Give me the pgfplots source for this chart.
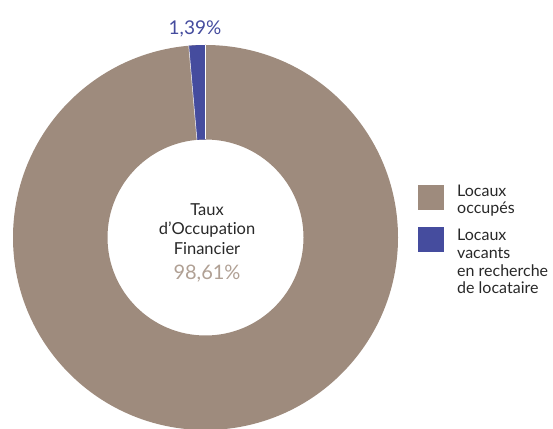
\documentclass[border=0pt]{standalone}
\usepackage{fontspec}
\setmainfont{Lato}[Ligatures=NoCommon]
\usepackage{pgfplots}
\usepackage{pgfplotstable}
\pgfplotsset{compat=1.18}
\definecolor{occ}{RGB}{158,139,125}
\definecolor{vac}{RGB}{69,76,158}
\definecolor{pct}{RGB}{176,160,148}
\definecolor{txt}{RGB}{40,40,40}
\pgfplotstableread{
label share
occupes 98.61
vacants 1.39
}\piedata
\newcommand{\pct}[1]{\pgfmathprintnumber[use comma,fixed,fixed zerofill,precision=2,assume math mode=true]{#1}\%}
\begin{document}
\begin{tikzpicture}
\pgfplotstablegetelem{0}{share}\of\piedata \let\occshare\pgfplotsretval
\pgfplotstablegetelem{1}{share}\of\piedata \let\vacshare\pgfplotsretval
\pgfmathsetmacro{\aEnd}{90+3.6*\vacshare}
\begin{axis}[
  x=1pt, y=1pt, xmin=0, xmax=553, ymin=0, ymax=428,
  scale only axis, hide axis, clip=false,
]
\coordinate (c) at (axis cs:205.5,190.5);
% ring (occupied)
\fill[occ, even odd rule] (c) circle[radius=192.5pt] (c) circle[radius=98pt];
% vacant slice
\fill[vac] ([shift={(90:192.5pt)}]c) arc[start angle=90, end angle=\aEnd, radius=192.5pt]
  -- ([shift={(\aEnd:98pt)}]c) arc[start angle=\aEnd, end angle=90, radius=98pt] -- cycle;
\draw[white, line width=0.5pt] ([shift={(90:98pt)}]c) -- ([shift={(90:192.5pt)}]c);
\draw[white, line width=0.5pt] ([shift={(\aEnd:98pt)}]c) -- ([shift={(\aEnd:192.5pt)}]c);
% center text
\node[anchor=base, text=txt, font=\fontsize{16.5}{18}\selectfont, inner sep=0pt] at (axis cs:207,212.5) {Taux};
\node[anchor=base, text=txt, font=\fontsize{16.5}{18}\selectfont, inner sep=0pt] at (axis cs:207,193) {d’Occupation};
\node[anchor=base, text=txt, font=\fontsize{16.5}{18}\selectfont, inner sep=0pt] at (axis cs:207,173.5) {Financier};
\node[anchor=base, text=pct, font=\fontsize{20}{22}\selectfont, inner sep=0pt] at (axis cs:207,148.5) {\pct{\occshare}};
% slice label
\node[anchor=base, text=vac, font=\fontsize{19}{21}\selectfont, inner sep=0pt] at (axis cs:195,393.7) {\pct{\vacshare}};
% legend
\fill[occ] (axis cs:418.3,218) rectangle (axis cs:444.3,243);
\fill[vac] (axis cs:418.3,175.5) rectangle (axis cs:444.3,201);
\node[anchor=base west, text=txt, font=\fontsize{16}{18}\selectfont, inner sep=0pt] at (axis cs:457,231) {Locaux};
\node[anchor=base west, text=txt, font=\fontsize{16}{18}\selectfont, inner sep=0pt] at (axis cs:457,214.5) {occupés};
\node[anchor=base west, text=txt, font=\fontsize{16}{18}\selectfont, inner sep=0pt] at (axis cs:457,187.5) {Locaux};
\node[anchor=base west, text=txt, font=\fontsize{16}{18}\selectfont, inner sep=0pt] at (axis cs:457,169.7) {vacants};
\node[anchor=base west, text=txt, font=\fontsize{16}{18}\selectfont, inner sep=0pt] at (axis cs:457,151.7) {en recherche};
\node[anchor=base west, text=txt, font=\fontsize{16}{18}\selectfont, inner sep=0pt] at (axis cs:457,134) {de locataire};
\end{axis}
\pgfresetboundingbox
\useasboundingbox (0,0) rectangle (553pt,428pt);
\end{tikzpicture}
\end{document}
